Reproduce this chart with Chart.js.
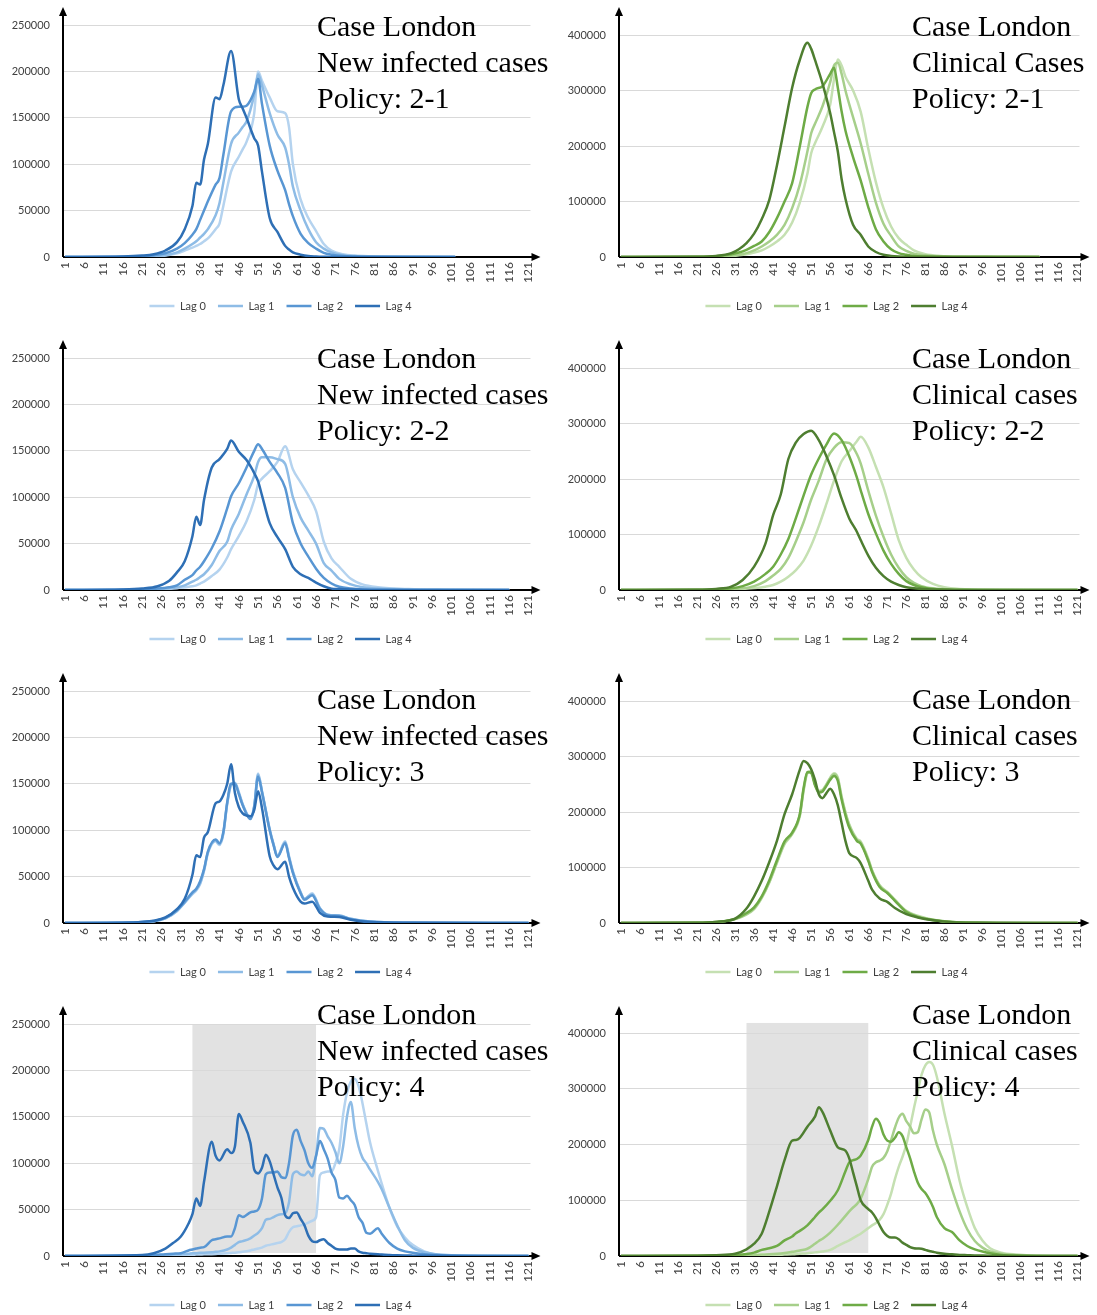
<!DOCTYPE html>
<html>
<head>
<meta charset="utf-8">
<title>Case London - lag comparison</title>
<script src="https://cdn.jsdelivr.net/npm/chart.js@4.4.1/dist/chart.umd.min.js"></script>
<style>
  body { margin: 0; background: #fff; }
  #page { position: relative; width: 1097px; height: 1315px; overflow: hidden; background: #fff; }
  #page canvas { position: absolute; }
  .caption {
    position: absolute;
    font-family: 'Liberation Serif', 'Times New Roman', serif;
    font-size: 30px;
    line-height: 36px;
    color: #000;
    white-space: nowrap;
    pointer-events: none;
  }
</style>
</head>
<body>
<div id="page">
  <canvas id="c1" width="548" height="333" style="left:0;top:0"></canvas>
  <canvas id="c2" width="541" height="333" style="left:556px;top:0"></canvas>
  <canvas id="c3" width="548" height="333" style="left:0;top:333px"></canvas>
  <canvas id="c4" width="541" height="333" style="left:556px;top:333px"></canvas>
  <canvas id="c5" width="548" height="333" style="left:0;top:666px"></canvas>
  <canvas id="c6" width="541" height="333" style="left:556px;top:666px"></canvas>
  <canvas id="c7" width="548" height="333" style="left:0;top:999px"></canvas>
  <canvas id="c8" width="541" height="333" style="left:556px;top:999px"></canvas>

  <div class="caption" style="left:317px;top:8px">Case London<br>New infected cases<br>Policy: 2-1</div>
  <div class="caption" style="left:912px;top:8px">Case London<br>Clinical Cases<br>Policy: 2-1</div>
  <div class="caption" style="left:317px;top:340px">Case London<br>New infected cases<br>Policy: 2-2</div>
  <div class="caption" style="left:912px;top:340px">Case London<br>Clinical cases<br>Policy: 2-2</div>
  <div class="caption" style="left:317px;top:681px">Case London<br>New infected cases<br>Policy: 3</div>
  <div class="caption" style="left:912px;top:681px">Case London<br>Clinical cases<br>Policy: 3</div>
  <div class="caption" style="left:317px;top:996px">Case London<br>New infected cases<br>Policy: 4</div>
  <div class="caption" style="left:912px;top:996px">Case London<br>Clinical cases<br>Policy: 4</div>
</div>

<script>
// x axis tick labels (day numbers)
const dayTicks = [1, 6, 11, 16, 21, 26, 31, 36, 41, 46, 51, 56, 61, 66, 71, 76, 81, 86, 91, 96, 101, 106, 111, 116, 121];
const lagNames = ['Lag 0', 'Lag 1', 'Lag 2', 'Lag 4'];
// days covered by the grey band in the policy 4 charts
const lockdownDays = [34, 66];

// all case counts below are in thousands

// Policy 2-1, new infected cases
const inf21Days = [1, 16, 21, 24, 27, 30, 32, 34, 35, 36, 37, 38, 40, 41, 42, 44, 46, 47, 48, 50, 51, 52, 54, 56, 58, 59, 60, 62, 64, 66, 68, 70, 73, 76, 80, 90, 102];
const inf21Lag0 = [0, 0, 0.2, 0.5, 1.5, 4, 7, 10, 12, 14, 17, 20, 30, 36, 55, 92, 108, 116, 124, 155, 200, 190, 172, 157, 155, 140, 100, 62, 42, 28, 14, 7, 3, 1.5, 0.8, 0.3, 0.1];
const inf21Lag1 = [0, 0, 0.3, 0.8, 2, 5, 9, 14, 17, 21, 25, 30, 45, 58, 80, 122, 134, 140, 146, 175, 197, 185, 155, 132, 118, 100, 76, 50, 30, 16, 9, 5, 2, 1, 0.5, 0.2, 0];
const inf21Lag2 = [0, 0.2, 0.7, 2, 4, 9, 15, 24, 30, 40, 50, 60, 78, 85, 110, 157, 162, 162, 163, 178, 192, 165, 120, 93, 72, 57, 44, 25, 15, 9, 4.5, 2.5, 1, 0.5, 0.2, 0, 0];
const inf21Lag4 = [0, 0.5, 1.5, 3, 7, 16, 30, 55, 80, 78, 105, 122, 172, 170, 185, 222, 170, 160, 150, 128, 120, 92, 42, 27, 12, 8, 5, 2.5, 1, 0.5, 0.2, 0, 0, 0, 0, 0, 0];

// Policy 2-1, clinical cases
const clin21Days = [1, 21, 26, 30, 32, 34, 36, 38, 40, 42, 44, 46, 48, 50, 51, 52, 54, 56, 57, 58, 59, 60, 62, 64, 66, 68, 70, 72, 74, 76, 78, 81, 85, 90, 100, 111];
const clin21Lag0 = [0, 0, 0.5, 1.5, 3, 5, 8, 12, 19, 28, 40, 62, 98, 150, 187, 205, 235, 275, 320, 356, 345, 325, 300, 262, 195, 135, 88, 55, 34, 22, 12, 5, 2, 1, 0.5, 0.2];
const clin21Lag1 = [0, 0.2, 0.8, 2.5, 4, 7, 12, 19, 28, 40, 58, 88, 130, 190, 223, 240, 272, 315, 345, 350, 330, 300, 252, 205, 150, 98, 60, 38, 19, 11, 6, 3, 1, 0.5, 0.2, 0];
const clin21Lag2 = [0, 0.3, 1.5, 5, 8, 13, 20, 28, 45, 70, 100, 133, 199, 270, 295, 302, 308, 330, 341, 305, 262, 228, 180, 138, 90, 50, 28, 14, 7, 4, 2, 1, 0.5, 0, 0, 0];
const clin21Lag4 = [0, 0.5, 2, 7, 14, 25, 42, 68, 103, 165, 235, 305, 355, 386, 375, 355, 312, 259, 225, 190, 140, 105, 58, 40, 19, 9, 4, 2, 1, 0.5, 0, 0, 0, 0, 0, 0];

// Policy 2-2, new infected cases
const inf22Days = [1, 16, 21, 25, 28, 30, 32, 34, 35, 36, 37, 39, 41, 43, 44, 46, 48, 50, 51, 52, 54, 56, 58, 60, 62, 64, 66, 68, 70, 72, 75, 78, 82, 90, 100, 116];
const inf22Lag0 = [0, 0, 0.2, 0.6, 1.2, 2, 3, 4, 5, 7, 9, 15, 22, 35, 44, 58, 74, 97, 114, 120, 128, 138, 155, 130, 116, 102, 85, 52, 34, 25, 12, 6, 3, 1, 0.4, 0.1];
const inf22Lag1 = [0, 0, 0.3, 1, 2, 3, 5, 9, 11, 14, 17, 27, 42, 52, 65, 82, 103, 123, 138, 143, 143, 141, 136, 100, 78, 64, 50, 29, 21, 12, 6, 3, 1.5, 0.5, 0.2, 0];
const inf22Lag2 = [0, 0.2, 0.5, 1.5, 3, 5, 11, 16, 21, 25, 31, 45, 63, 88, 101, 115, 132, 150, 157, 152, 138, 126, 110, 72, 50, 36, 23, 13, 7, 3.5, 1.5, 0.5, 0.2, 0, 0, 0];
const inf22Lag4 = [0, 0.5, 1.5, 4, 10, 19, 31, 58, 79, 70, 97, 132, 141, 152, 161, 149, 140, 126, 117, 102, 72, 57, 44, 25, 17, 13, 8, 4, 1.5, 1, 0.5, 0.2, 0, 0, 0, 0];

// Policy 2-2, clinical cases
const clin22Days = [1, 21, 26, 30, 33, 36, 39, 41, 43, 45, 47, 49, 51, 53, 55, 57, 59, 61, 63, 64, 66, 68, 70, 72, 74, 76, 78, 80, 83, 86, 90, 100, 111, 121];
const clin22Lag0 = [0, 0, 0.3, 1, 2, 3.5, 6, 9, 15, 24, 36, 53, 80, 115, 155, 197, 232, 250, 268, 276, 257, 222, 185, 138, 90, 58, 37, 23, 11, 5, 2, 0.5, 0.1, 0];
const clin22Lag1 = [0, 0.2, 0.5, 1.5, 3, 7, 16, 26, 38, 58, 88, 122, 163, 197, 235, 256, 266, 265, 245, 228, 179, 134, 96, 64, 40, 23, 13, 7, 3, 1.5, 0.5, 0, 0, 0];
const clin22Lag2 = [0, 0.3, 1, 3, 7, 15, 29, 42, 64, 92, 130, 170, 208, 237, 262, 282, 270, 241, 203, 180, 137, 102, 71, 47, 29, 16, 9, 5, 2, 1, 0.3, 0, 0, 0];
const clin22Lag4 = [0, 0.5, 2, 6, 18, 42, 84, 135, 172, 236, 266, 281, 287, 270, 241, 207, 165, 129, 105, 90, 62, 40, 25, 15, 9, 5, 3, 2, 1, 0.5, 0, 0, 0, 0];

// Policy 3, new infected cases
const inf3Days = [1, 16, 21, 24, 27, 30, 32, 34, 35, 36, 37, 38, 40, 41, 42, 43, 44, 45, 46, 47, 49, 50, 51, 52, 54, 55, 56, 58, 59, 60, 62, 63, 65, 67, 69, 72, 75, 80, 90, 121];
const inf3Lag0 = [0, 0.3, 1, 2, 5, 13, 22, 31, 35, 42, 56, 75, 88, 84, 96, 128, 148, 150, 140, 128, 114, 126, 161, 142, 100, 84, 72, 88, 72, 56, 33, 26, 32, 16, 9, 8, 4.5, 1.5, 0.3, 0];
const inf3Lag1 = [0, 0.3, 1, 2, 5, 13, 22, 32, 36, 43, 57, 76, 89, 85, 97, 129, 149, 151, 141, 128, 113, 126, 160, 142, 101, 85, 72, 87, 71, 55, 33, 26, 31, 16, 9, 8, 4.5, 1.5, 0.3, 0];
const inf3Lag2 = [0, 0.3, 1, 2.2, 5.5, 14, 23, 33, 37, 45, 58, 77, 90, 86, 98, 130, 150, 150, 139, 127, 112, 125, 158, 141, 100, 84, 71, 86, 70, 54, 32, 25, 30, 15, 8.5, 7.5, 4, 1.3, 0.3, 0];
const inf3Lag4 = [0, 0.4, 1.2, 2.5, 6, 15, 26, 52, 73, 71, 92, 98, 129, 131, 138, 150, 171, 140, 125, 118, 115, 122, 142, 124, 72, 62, 58, 66, 50, 38, 23, 21, 23, 11, 7, 6.5, 3.5, 1, 0.2, 0];

// Policy 3, clinical cases
const clin3Days = [1, 21, 26, 31, 34, 36, 38, 40, 42, 44, 46, 48, 49, 50, 51, 52, 53, 54, 55, 56, 57, 58, 59, 60, 61, 63, 64, 66, 67, 69, 71, 73, 76, 79, 83, 88, 95, 110, 121];
const clin3Lag0 = [0, 0.3, 1.5, 7, 15, 25, 45, 73, 108, 142, 160, 192, 238, 270, 273, 250, 238, 240, 250, 262, 270, 262, 228, 200, 178, 152, 147, 116, 95, 68, 56, 42, 22, 13, 6, 2, 0.6, 0.1, 0];
const clin3Lag1 = [0, 0.3, 1.6, 7, 16, 26, 46, 74, 110, 144, 161, 194, 240, 271, 273, 250, 237, 239, 249, 261, 268, 260, 226, 198, 176, 150, 145, 114, 94, 67, 55, 41, 21, 12, 6, 2, 0.5, 0, 0];
const clin3Lag2 = [0, 0.4, 1.8, 7.5, 18, 28, 48, 77, 113, 147, 163, 196, 243, 272, 270, 248, 235, 237, 247, 258, 265, 256, 222, 194, 172, 148, 143, 112, 92, 65, 54, 40, 20, 11, 5.5, 1.8, 0.5, 0, 0];
const clin3Lag4 = [0, 0.5, 2, 8, 26, 48, 76, 110, 148, 196, 232, 276, 292, 288, 277, 258, 232, 225, 234, 242, 232, 212, 180, 148, 126, 117, 108, 76, 60, 44, 38, 27, 16, 10, 5, 1.5, 0.5, 0, 0];

// Policy 4, new infected cases
const inf4Days = [1, 21, 24, 27, 29, 31, 33, 34, 35, 36, 37, 39, 40, 41, 43, 44, 45, 46, 47, 49, 50, 51, 52, 53, 54, 55, 56, 57, 58, 59, 60, 61, 62, 63, 64, 65, 66, 67, 68, 69, 70, 71, 72, 73, 74, 75, 76, 77, 78, 79, 80, 82, 83, 85, 87, 89, 91, 94, 97, 101, 110, 121];
const inf4Lag0 = [0, 0.1, 0.2, 0.5, 0.7, 1, 1.2, 1.3, 1.5, 1.6, 1.8, 2, 2.2, 2.5, 3, 3.3, 3.6, 4, 4.5, 6, 7, 8, 9, 11, 12, 13, 14, 15, 18, 26, 31, 32, 33, 34, 36, 38, 42, 87, 90, 91, 91, 100, 115, 152, 176, 188, 191, 183, 165, 143, 122, 92, 78, 52, 32, 20, 12, 5, 1.5, 0.5, 0.1, 0];
const inf4Lag1 = [0, 0.2, 0.5, 1, 1.5, 2, 2.5, 3, 3, 3.5, 3.5, 4, 4.5, 5, 7, 9, 12, 15, 16, 19, 22, 25, 30, 39, 40, 42, 44, 45, 46, 58, 88, 91, 88, 87, 91, 86, 108, 138, 137, 129, 122, 112, 100, 118, 150, 166, 138, 118, 106, 100, 93, 80, 72, 52, 33, 17, 9, 4, 2, 0.8, 0.2, 0];
const inf4Lag2 = [0, 0.5, 1, 2, 2.5, 3, 6, 7, 8, 9, 9.5, 17, 18, 19, 21, 21, 30, 44, 42, 47, 48, 50, 62, 88, 90, 90, 91, 85, 84, 100, 130, 136, 124, 114, 100, 95, 108, 124, 115, 105, 90, 82, 63, 62, 65, 60, 55, 42, 36, 25, 24, 30, 24, 14, 8, 5, 3.5, 2, 1, 0.5, 0, 0];
const inf4Lag4 = [0, 1, 3, 8, 14, 21, 35, 45, 62, 54, 80, 123, 108, 103, 115, 111, 118, 153, 145, 122, 93, 89, 95, 109, 102, 88, 74, 63, 44, 41, 46, 47, 40, 33, 22, 16, 15, 17, 18, 14, 11, 8, 7, 7, 7, 8, 8, 5, 3.5, 3, 2.5, 2, 1.5, 1, 0.7, 0.5, 0.4, 0.3, 0.2, 0.1, 0, 0];

// Policy 4, clinical cases
const clin4Days = [1, 21, 26, 31, 34, 36, 38, 40, 42, 44, 46, 47, 48, 50, 52, 53, 54, 56, 58, 60, 61, 62, 63, 64, 66, 67, 68, 69, 70, 71, 72, 73, 74, 75, 76, 77, 78, 79, 80, 81, 82, 83, 84, 86, 88, 90, 92, 94, 96, 98, 101, 105, 110, 121];
const clin4Lag0 = [0, 0.1, 0.2, 0.5, 0.8, 1, 1.3, 1.7, 2, 2.5, 3, 3.5, 4, 5, 6.5, 7, 8, 11, 18, 25, 28, 32, 36, 40, 50, 55, 59, 65, 75, 92, 112, 138, 160, 178, 200, 232, 265, 295, 325, 342, 348, 343, 322, 256, 198, 135, 88, 50, 28, 14, 6, 2.5, 0.5, 0];
const clin4Lag1 = [0, 0.1, 0.4, 1, 1.5, 2, 2.5, 3, 4, 5.5, 7.5, 8.5, 10, 13, 22, 27, 31, 42, 56, 72, 80, 87, 93, 103, 138, 160, 168, 171, 176, 188, 208, 230, 248, 255, 242, 232, 220, 222, 245, 263, 258, 225, 200, 165, 120, 80, 48, 27, 15, 8, 4, 1.5, 0.4, 0];
const clin4Lag2 = [0, 0.3, 1, 2, 3.5, 6, 11, 14, 18, 28, 35, 41, 45, 55, 70, 78, 84, 99, 118, 152, 168, 172, 174, 180, 208, 232, 246, 238, 218, 207, 205, 212, 222, 215, 195, 175, 152, 132, 120, 113, 102, 88, 70, 50, 43, 28, 18, 12, 8, 5, 2, 0.8, 0.2, 0];
const clin4Lag4 = [0, 0.5, 1.5, 4, 12, 22, 40, 80, 125, 172, 207, 208, 212, 232, 250, 267, 258, 225, 195, 189, 175, 150, 125, 100, 84, 78, 68, 55, 43, 36, 33, 33, 30, 24, 20, 16, 14, 13.5, 13, 11, 9, 7.5, 6, 4, 3, 2, 1.5, 1, 0.7, 0.5, 0.3, 0.2, 0.1, 0];

const blues = ['#b5d3ef', '#8ebce6', '#5896d3', '#2e6fb5'];
const greens = ['#c5e0b2', '#a6cf8a', '#6eab46', '#4e7e30'];

Chart.defaults.font.family = "Lato, 'Open Sans', sans-serif";

// black axes with arrow heads, plus the grey band for policy 4
const axisArrows = {
    id: 'axisArrows',
    afterLayout(chart) {
        // the legend sits a little right of the canvas centre
        chart.legend.left += 12;
        chart.legend.right += 12;
    },
    beforeDraw(chart, args, opts) {
        if (!opts.band) return;
        const {ctx, scales: {x, y}} = chart;
        const left = x.getPixelForValue(opts.band[0]);
        const right = x.getPixelForValue(opts.band[1]);
        const top = y.getPixelForValue(opts.bandTop);
        const bottom = y.getPixelForValue(0);
        ctx.save();
        ctx.fillStyle = '#e2e2e2';
        ctx.fillRect(left, top, right - left, bottom - top - 3);
        ctx.restore();
    },
    beforeDatasetsDraw(chart) {
        const {ctx, chartArea: a} = chart;
        ctx.save();
        ctx.strokeStyle = '#000';
        ctx.fillStyle = '#000';
        ctx.lineWidth = 2;
        ctx.beginPath();
        ctx.moveTo(a.left, a.bottom);
        ctx.lineTo(a.right + 3, a.bottom);
        ctx.moveTo(a.left, a.bottom);
        ctx.lineTo(a.left, 14);
        ctx.stroke();
        ctx.beginPath();
        ctx.moveTo(a.right + 10, a.bottom);
        ctx.lineTo(a.right + 1, a.bottom - 4);
        ctx.lineTo(a.right + 1, a.bottom + 4);
        ctx.closePath();
        ctx.moveTo(a.left, 7);
        ctx.lineTo(a.left - 4, 16);
        ctx.lineTo(a.left + 4, 16);
        ctx.closePath();
        ctx.fill();
        ctx.restore();
    }
};

function makePanel(p) {
    const datasets = p.lags.map((vals, i) => ({
        label: lagNames[i],
        data: vals.map((v, k) => ({x: p.days[k], y: v * 1000})),
        borderColor: p.colors[i],
        backgroundColor: p.colors[i],
        borderWidth: 2.5,
        pointRadius: 0,
        cubicInterpolationMode: 'monotone',
        order: 3 - i
    }));

    new Chart(document.getElementById(p.id), {
        type: 'line',
        data: {datasets},
        options: {
            responsive: false,
            animation: false,
            devicePixelRatio: 1,
            layout: {padding: {top: p.top, right: p.right, bottom: 11.5, left: 0}},
            scales: {
                x: {
                    type: 'linear',
                    min: 0.5,
                    max: 121.5,
                    afterBuildTicks: s => { s.ticks = dayTicks.map(v => ({value: v})); },
                    afterFit: s => { s.height = 31.5; },
                    grid: {display: false, drawTicks: false},
                    border: {display: false},
                    ticks: {autoSkip: false, minRotation: 90, maxRotation: 90, padding: 5,
                            font: {size: 12}, color: '#404040'}
                },
                y: {
                    min: 0,
                    max: p.yMax,
                    afterFit: s => { s.width = 63; },
                    grid: {color: '#d9d9d9', drawTicks: false},
                    border: {display: false},
                    ticks: {stepSize: p.yStep, padding: 13, font: {size: 11}, color: '#404040',
                            callback: v => String(v)}
                }
            },
            plugins: {
                legend: {
                    position: 'bottom',
                    labels: {
                        usePointStyle: true,
                        pointStyle: 'line',
                        pointStyleWidth: 25,
                        padding: 12,
                        font: {size: 11},
                        color: '#404040',
                        sort: (a, b) => a.datasetIndex - b.datasetIndex
                    }
                },
                tooltip: {enabled: false},
                axisArrows: {band: p.band, bandTop: p.bandTop}
            }
        },
        plugins: [axisArrows]
    });
}

const panels = [
    {id: 'c1', days: inf21Days, lags: [inf21Lag0, inf21Lag1, inf21Lag2, inf21Lag4], colors: blues, yMax: 250000, yStep: 50000, top: 25, right: 11},
    {id: 'c2', days: clin21Days, lags: [clin21Lag0, clin21Lag1, clin21Lag2, clin21Lag4], colors: greens, yMax: 400000, yStep: 100000, top: 35, right: 4},
    {id: 'c3', days: inf22Days, lags: [inf22Lag0, inf22Lag1, inf22Lag2, inf22Lag4], colors: blues, yMax: 250000, yStep: 50000, top: 25, right: 11},
    {id: 'c4', days: clin22Days, lags: [clin22Lag0, clin22Lag1, clin22Lag2, clin22Lag4], colors: greens, yMax: 400000, yStep: 100000, top: 35, right: 4},
    {id: 'c5', days: inf3Days, lags: [inf3Lag0, inf3Lag1, inf3Lag2, inf3Lag4], colors: blues, yMax: 250000, yStep: 50000, top: 25, right: 11},
    {id: 'c6', days: clin3Days, lags: [clin3Lag0, clin3Lag1, clin3Lag2, clin3Lag4], colors: greens, yMax: 400000, yStep: 100000, top: 35, right: 4},
    {id: 'c7', days: inf4Days, lags: [inf4Lag0, inf4Lag1, inf4Lag2, inf4Lag4], colors: blues, yMax: 250000, yStep: 50000, top: 25, right: 11,
     band: lockdownDays, bandTop: 250000},
    {id: 'c8', days: clin4Days, lags: [clin4Lag0, clin4Lag1, clin4Lag2, clin4Lag4], colors: greens, yMax: 400000, yStep: 100000, top: 34, right: 4,
     band: lockdownDays, bandTop: 418000}
];

panels.forEach(makePanel);
</script>
</body>
</html>
